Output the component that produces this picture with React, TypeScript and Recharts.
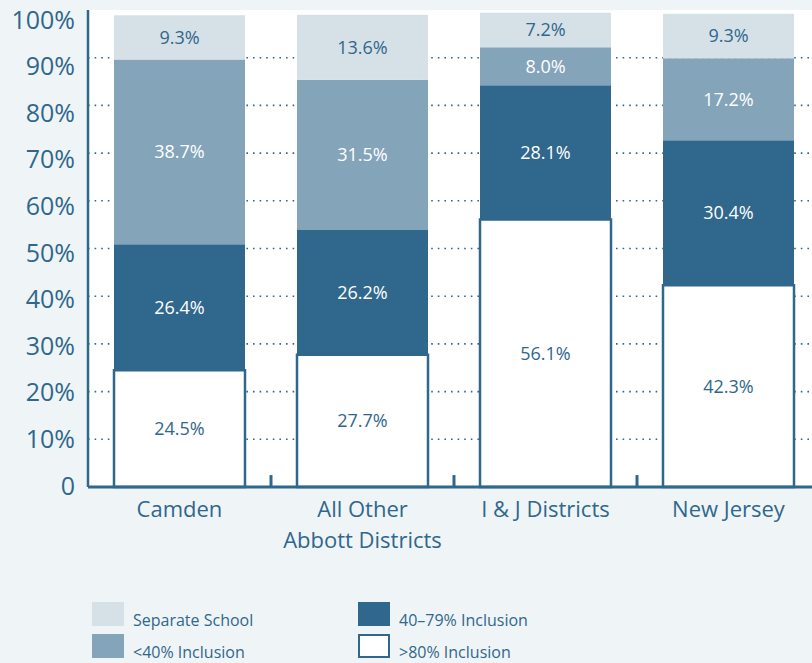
import { BarChart, Bar, XAxis, YAxis, CartesianGrid, LabelList, ReferenceLine } from 'recharts';

const categories = ['Camden', 'All Other\nAbbott Districts', 'I & J Districts', 'New Jersey'];
const over80 = [24.5, 27.7, 56.1, 42.3];
const incl4079 = [26.4, 26.2, 28.1, 30.4];
const under40 = [38.7, 31.5, 8.0, 17.2];
const separate = [9.3, 13.6, 7.2, 9.3];
const yTicks = [0, 10, 20, 30, 40, 50, 60, 70, 80, 90, 100];
const gridTicks = [10, 20, 30, 40, 50, 60, 70, 80, 90];

const DARK = '#30678c';
const MID = '#84a4ba';
const LIGHT = '#d6e1e7';
const BG = '#eff5f6';
const FONT = '"Open Sans", "Noto Sans", sans-serif';

const data = categories.map((name, i) => ({
  name,
  over80: over80[i],
  incl4079: incl4079[i],
  under40: under40[i],
  separate: separate[i],
}));

const series = [
  { key: 'over80', name: '>80% Inclusion', fill: '#ffffff', label: DARK, stroke: DARK },
  { key: 'incl4079', name: '40–79% Inclusion', fill: DARK, label: '#ffffff' },
  { key: 'under40', name: '<40% Inclusion', fill: MID, label: '#ffffff' },
  { key: 'separate', name: 'Separate School', fill: LIGHT, label: DARK },
];

// legend layout: column-major like the original
const legendOrder = ['separate', 'under40', 'incl4079', 'over80'];

const CategoryTick = (props: any) => {
  const { x, payload } = props;
  const lines = String(payload.value).split('\n');
  return (
    <text x={x} y={487} textAnchor="middle" fill={DARK} fontSize={22} fontFamily={FONT}>
      {lines.map((l, i) => (
        <tspan key={i} x={x} dy={i === 0 ? 30 : 31}>
          {l}
        </tspan>
      ))}
    </text>
  );
};

// the original's tick labels drift below their gridlines towards the top
const PercentTick = (props: any) => {
  const { x, y, payload } = props;
  const v = payload.value as number;
  return (
    <text
      x={x}
      y={y}
      dy={7.5 + v * 0.11}
      textAnchor="end"
      fill={DARK}
      fontSize={25}
      fontFamily={FONT}
    >
      {v === 0 ? '0' : `${v}%`}
    </text>
  );
};

export default function App() {
  return (
    <div
      style={{
        position: 'absolute',
        left: 0,
        top: 0,
        width: 812,
        height: 663,
        overflow: 'hidden',
        background: BG,
        fontFamily: FONT,
      }}
    >
      <BarChart
        width={820}
        height={663}
        data={data}
        margin={{ top: 10, right: 0, bottom: 116, left: 0 }}
        barSize={131}
      >
        <CartesianGrid
          vertical={false}
          fill="#ffffff"
          fillOpacity={1}
          stroke={DARK}
          strokeWidth={1.6}
          strokeDasharray="1.6 5"
          horizontalCoordinatesGenerator={({ yAxis, offset }: any) =>
            gridTicks.map((v) =>
              yAxis && typeof yAxis.scale === 'function'
                ? yAxis.scale(v)
                : offset.top + offset.height * (1 - v / 100)
            )
          }
        />
        <XAxis
          dataKey="name"
          height={60}
          interval={0}
          tickLine={false}
          axisLine={{ stroke: DARK, strokeWidth: 3 }}
          tick={<CategoryTick />}
        />
        <YAxis
          width={88}
          domain={[0, 100]}
          ticks={yTicks}
          interval={0}
          tickLine={false}
          tickMargin={7}
          axisLine={{ stroke: DARK, strokeWidth: 2.5 }}
          tick={<PercentTick />}
        />
        {series.map((s) => (
          <Bar
            key={s.key}
            dataKey={s.key}
            name={s.name}
            stackId="a"
            fill={s.fill}
            stroke={s.stroke}
            strokeWidth={s.stroke ? 2.5 : 0}
            isAnimationActive={false}
          >
            <LabelList
              dataKey={s.key}
              position="center"
              fill={s.label}
              fontSize={18}
              fontFamily={FONT}
              formatter={(v: any) => `${Number(v).toFixed(1)}%`}
            />
          </Bar>
        ))}
        {categories.slice(1).map((c) => (
          <ReferenceLine
            key={c}
            position="start"
            segment={[
              { x: c, y: 0 },
              { x: c, y: 2.5 },
            ]}
            stroke={DARK}
            strokeWidth={3}
          />
        ))}
      </BarChart>

      <div
        style={{
          position: 'absolute',
          left: 92,
          top: 602,
          display: 'grid',
          gridTemplateColumns: '266px 260px',
          gridAutoFlow: 'column',
          gridTemplateRows: '24px 24px',
          rowGap: 8,
        }}
      >
        {legendOrder.map((k) => {
          const s = series.find((x) => x.key === k)!;
          return (
            <div key={k} style={{ display: 'flex', alignItems: 'flex-end', height: 24 }}>
              <div
                style={{
                  width: 32,
                  height: 24,
                  boxSizing: 'border-box',
                  background: s.fill,
                  border: s.stroke ? `2.5px solid ${s.stroke}` : 'none',
                  flex: 'none',
                }}
              />
              <span
                style={{
                  marginLeft: 9,
                  fontSize: 16,
                  color: DARK,
                  lineHeight: '16px',
                  position: 'relative',
                  top: 2,
                  whiteSpace: 'nowrap',
                }}
              >
                {s.name}
              </span>
            </div>
          );
        })}
      </div>
    </div>
  );
}
